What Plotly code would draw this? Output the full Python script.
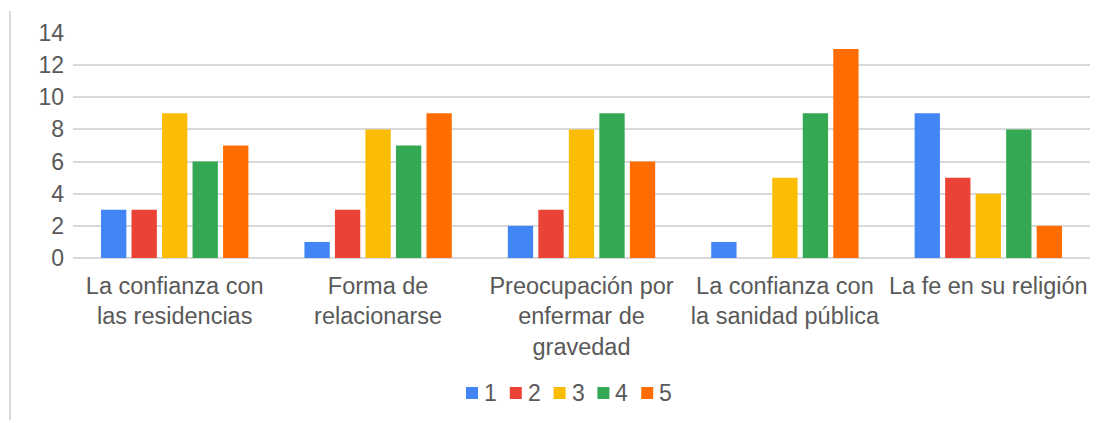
import plotly.graph_objects as go

categories = [
    "La confianza con<br>las residencias",
    "Forma de<br>relacionarse",
    "Preocupación por<br>enfermar de<br>gravedad",
    "La confianza con<br>la sanidad pública",
    "La fe en su religión",
]
series_names = ["1", "2", "3", "4", "5"]
values_1 = [3, 1, 2, 1, 9]
values_2 = [3, 3, 3, 0, 5]
values_3 = [9, 8, 8, 5, 4]
values_4 = [6, 7, 9, 9, 8]
values_5 = [7, 9, 6, 13, 2]
colors = ["#4285F4", "#EA4335", "#FBBC04", "#34A853", "#FF6D01"]

y_ticks = [0, 2, 4, 6, 8, 10, 12, 14]

W, H = 1105, 423
ML, MR, MT, MB = 73, 15, 33, 165
TEXT = "#595959"
FONT = "Liberation Sans, Arial, sans-serif"

plot_w = W - ML - MR
plot_h = H - MT - MB


def px_x(x):
    """Pixel column -> paper x."""
    return (x - ML) / plot_w


def px_y(y):
    """Pixel row -> paper y."""
    return (H - MB - y) / plot_h


fig = go.Figure()
for name, vals, col in zip(series_names,
                           [values_1, values_2, values_3, values_4, values_5],
                           colors):
    fig.add_trace(go.Bar(
        x=categories, y=vals, name=name,
        marker=dict(color=col, line=dict(width=0)),
        showlegend=False,
    ))

# thin grey rule along the left edge of the page
fig.add_shape(type="line", xref="paper", yref="paper",
              x0=px_x(10), x1=px_x(10), y0=px_y(11), y1=px_y(420),
              line=dict(color="#d9d9d9", width=2))

# compact horizontal legend: colour square followed by the series name
LEG_X0, LEG_STEP, LEG_Y, SQ = 466, 43.8, 393, 12
for i, (name, col) in enumerate(zip(series_names, colors)):
    x0 = LEG_X0 + i * LEG_STEP
    fig.add_shape(type="rect", xref="paper", yref="paper",
                  x0=px_x(x0), x1=px_x(x0 + SQ),
                  y0=px_y(LEG_Y - SQ / 2), y1=px_y(LEG_Y + SQ / 2),
                  fillcolor=col, line=dict(width=0))
    fig.add_annotation(xref="paper", yref="paper",
                       x=px_x(x0 + SQ + 4), y=px_y(LEG_Y),
                       xanchor="left", yanchor="middle",
                       text=name, showarrow=False,
                       font=dict(size=23, color=TEXT, family=FONT))

fig.update_layout(
    width=W, height=H,
    margin=dict(l=ML, r=MR, t=MT, b=MB, autoexpand=False),
    paper_bgcolor="white", plot_bgcolor="white",
    barmode="group", bargap=0.25, bargroupgap=0.17,
    font=dict(family=FONT, size=23, color=TEXT),
    showlegend=False,
    xaxis=dict(showgrid=False, showline=False, ticks="",
               tickfont=dict(size=23.5, color=TEXT), ticklabelstandoff=11),
    yaxis=dict(range=[0, 14], tickvals=y_ticks, showgrid=True,
               gridcolor="#d9d9d9", gridwidth=2,
               zeroline=True, zerolinecolor="#d9d9d9", zerolinewidth=2,
               showline=False, ticks="",
               tickfont=dict(size=23, color=TEXT), ticklabelstandoff=8),
)

fig.write_html("out.html")
